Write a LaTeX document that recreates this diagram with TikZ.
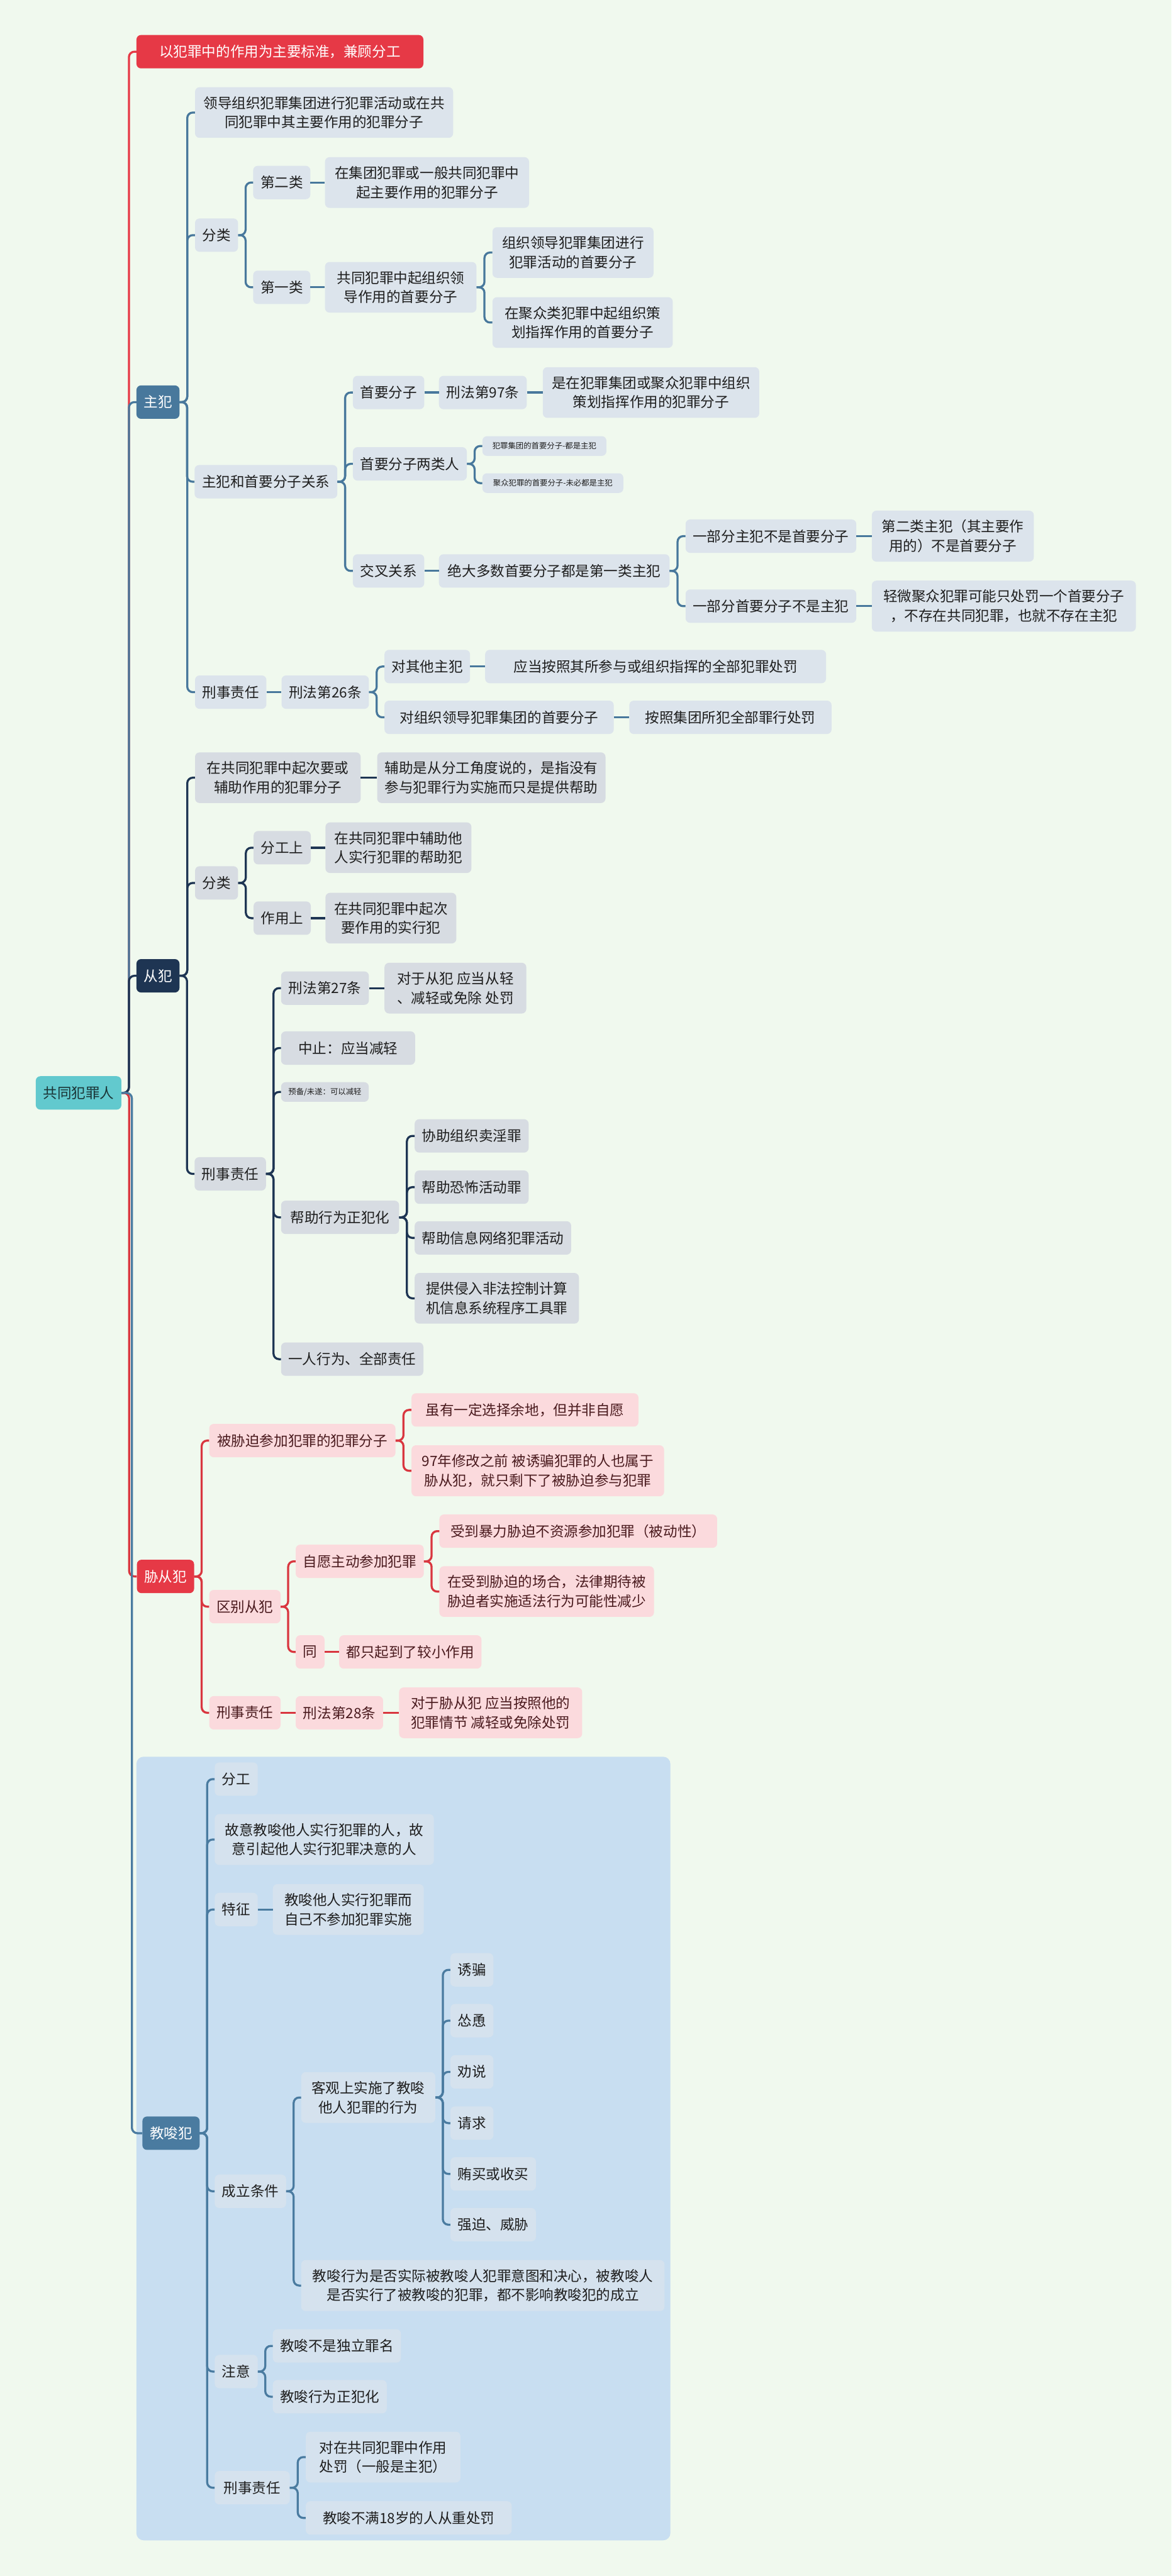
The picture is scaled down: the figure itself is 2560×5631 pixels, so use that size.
\documentclass[tikz,border=0pt]{standalone}
\usepackage{fontspec}
\setmainfont{Noto Sans CJK SC}
\usetikzlibrary{calc}

\definecolor{bgcol}{HTML}{F0F9EE}
\definecolor{inkdark}{HTML}{1E1E1E}
\definecolor{rootteal}{HTML}{62C9CE}
\definecolor{roottext}{HTML}{1A3436}
\definecolor{titlered}{HTML}{E63946}
\definecolor{zfblue}{HTML}{48789C}
\definecolor{zfgray}{HTML}{DCE4EC}
\definecolor{cfnavy}{HTML}{1E3553}
\definecolor{cfgray}{HTML}{D7DCE2}
\definecolor{xcfred}{HTML}{E63946}
\definecolor{xcfline}{HTML}{D9363F}
\definecolor{xcfpink}{HTML}{FBDADD}
\definecolor{xcftext}{HTML}{4A1A1E}
\definecolor{jsblue}{HTML}{4A7BA0}
\definecolor{jsarea}{HTML}{C8DEF1}
\definecolor{jsgray}{HTML}{D5E2EE}

\begin{document}
\begin{tikzpicture}[x=1pt, y=-1pt,
    box/.style={anchor=west, rounded corners=10pt, inner xsep=16pt, inner ysep=20pt, minimum height=73pt, align=center, font=\fontsize{31}{42}\selectfont, text=inkdark},
    tinybox/.style={inner ysep=8pt, minimum height=43pt, font=\fontsize{17}{20}\selectfont},
    rootbox/.style={box, fill=rootteal, text=roottext},
    headbox/.style={box, fill=#1, text=white},
    zfbox/.style={box, fill=zfgray},
    cfbox/.style={box, fill=cfgray},
    xcfbox/.style={box, fill=xcfpink, text=xcftext},
    jsbox/.style={box, fill=jsgray},
    wire/.style={line width=4.5pt, color=#1},
    link/.style={wire=#1, rounded corners=12pt, to path={-- ($(\tikztostart)!0.5!(\tikztostart -| \tikztotarget)$) |- (\tikztotarget)}},
    ]
    \useasboundingbox (0,0) rectangle (2560,5631);
    \fill[bgcol] (0,0) rectangle (2560,5631);
    \fill[jsarea, rounded corners=16pt] (298,3840) rectangle (1465,5553);

    % root and main branches
    \node[rootbox, minimum width=186] at (78,2389) (root) {共同犯罪人};
    \node[headbox=titlered, minimum width=627] at (298,113) (title) {以犯罪中的作用为主要标准，兼顾分工};
    \node[headbox=zfblue, minimum width=94] at (298,879) (zf) {主犯};
    \node[headbox=cfnavy, minimum width=93] at (298,2133) (cf) {从犯};
    \node[headbox=xcfred, minimum width=123] at (299,3446) (xcf) {胁从犯};
    \node[headbox=jsblue, minimum width=125] at (311,4663) (js) {教唆犯};

    % 主犯
    \node[zfbox, minimum width=564] at (426,246) (zfA) {领导组织犯罪集团进行犯罪活动或在共\\同犯罪中其主要作用的犯罪分子};
    \node[zfbox, minimum width=93] at (426,514) (zfB) {分类};
    \node[zfbox, minimum width=124] at (553,399) (zfB1) {第二类};
    \node[zfbox, minimum width=446] at (710,399) (zfB1a) {在集团犯罪或一般共同犯罪中\\起主要作用的犯罪分子};
    \node[zfbox, minimum width=124] at (553,628) (zfB2) {第一类};
    \node[zfbox, minimum width=331] at (710,628) (zfB2a) {共同犯罪中起组织领\\导作用的首要分子};
    \node[zfbox, minimum width=352] at (1076,552) (zfB2a1) {组织领导犯罪集团进行\\犯罪活动的首要分子};
    \node[zfbox, minimum width=394] at (1076,705) (zfB2a2) {在聚众类犯罪中起组织策\\划指挥作用的首要分子};
    \node[zfbox, minimum width=312] at (425,1053) (zfC) {主犯和首要分子关系};
    \node[zfbox, minimum width=154] at (771,858) (zfC1) {首要分子};
    \node[zfbox, minimum width=192] at (959,858) (zfC1a) {刑法第97条};
    \node[zfbox, minimum width=473] at (1186,858) (zfC1b) {是在犯罪集团或聚众犯罪中组织\\策划指挥作用的犯罪分子};
    \node[zfbox, minimum width=248] at (771,1014) (zfC2) {首要分子两类人};
    \node[zfbox, tinybox, minimum width=271] at (1054,975) (zfC2a) {犯罪集团的首要分子-都是主犯};
    \node[zfbox, tinybox, minimum width=308] at (1054,1056) (zfC2b) {聚众犯罪的首要分子-未必都是主犯};
    \node[zfbox, minimum width=154] at (771,1248) (zfC3) {交叉关系};
    \node[zfbox, minimum width=504] at (959,1248) (zfC3a) {绝大多数首要分子都是第一类主犯};
    \node[zfbox, minimum width=371] at (1498,1172) (zfC3a1) {一部分主犯不是首要分子};
    \node[zfbox, minimum width=354] at (1905,1172) (zfC3a1x) {第二类主犯（其主要作\\用的）不是首要分子};
    \node[zfbox, minimum width=371] at (1498,1325) (zfC3a2) {一部分首要分子不是主犯};
    \node[zfbox, minimum width=577] at (1905,1325) (zfC3a2x) {轻微聚众犯罪可能只处罚一个首要分子\\，不存在共同犯罪，也就不存在主犯};
    \node[zfbox, minimum width=153] at (426,1513) (zfD) {刑事责任};
    \node[zfbox, minimum width=191] at (615,1513) (zfD1) {刑法第26条};
    \node[zfbox, minimum width=186] at (840,1457) (zfD1a) {对其他主犯};
    \node[zfbox, minimum width=745] at (1060,1457) (zfD1ax) {应当按照其所参与或组织指挥的全部犯罪处罚};
    \node[zfbox, minimum width=501] at (840,1568) (zfD1b) {对组织领导犯罪集团的首要分子};
    \node[zfbox, minimum width=442] at (1375,1568) (zfD1bx) {按照集团所犯全部罪行处罚};

    % 从犯
    \node[cfbox, minimum width=362] at (426,1700) (cfA) {在共同犯罪中起次要或\\辅助作用的犯罪分子};
    \node[cfbox, minimum width=499] at (824,1700) (cfAx) {辅助是从分工角度说的，是指没有\\参与犯罪行为实施而只是提供帮助};
    \node[cfbox, minimum width=91] at (426,1930) (cfB) {分类};
    \node[cfbox, minimum width=121] at (554,1853) (cfB1) {分工上};
    \node[cfbox, minimum width=319] at (711,1853) (cfB1x) {在共同犯罪中辅助他\\人实行犯罪的帮助犯};
    \node[cfbox, minimum width=121] at (554,2007) (cfB2) {作用上};
    \node[cfbox, minimum width=286] at (711,2007) (cfB2x) {在共同犯罪中起次\\要作用的实行犯};
    \node[cfbox, minimum width=155] at (425,2566) (cfC) {刑事责任};
    \node[cfbox, minimum width=192] at (614,2160) (cfC1) {刑法第27条};
    \node[cfbox, minimum width=310] at (840,2160) (cfC1x) {对于从犯 应当从轻\\、减轻或免除 处罚};
    \node[cfbox, minimum width=293] at (614,2291) (cfC2) {中止：应当减轻};
    \node[cfbox, tinybox, minimum width=190] at (614,2387) (cfC3) {预备/未遂：可以减轻};
    \node[cfbox, minimum width=258] at (614,2661) (cfC4) {帮助行为正犯化};
    \node[cfbox, minimum width=248] at (906,2483) (cfC4a) {协助组织卖淫罪};
    \node[cfbox, minimum width=248] at (906,2595) (cfC4b) {帮助恐怖活动罪};
    \node[cfbox, minimum width=341] at (906,2706) (cfC4c) {帮助信息网络犯罪活动};
    \node[cfbox, minimum width=359] at (906,2838) (cfC4d) {提供侵入非法控制计算\\机信息系统程序工具罪};
    \node[cfbox, minimum width=311] at (614,2971) (cfC5) {一人行为、全部责任};

    % 胁从犯
    \node[xcfbox, minimum width=407] at (457,3149) (xcfA) {被胁迫参加犯罪的犯罪分子};
    \node[xcfbox, minimum width=496] at (899,3082) (xcfA1) {虽有一定选择余地，但并非自愿};
    \node[xcfbox, minimum width=552] at (899,3215) (xcfA2) {97年修改之前 被诱骗犯罪的人也属于\\胁从犯，就只剩下了被胁迫参与犯罪};
    \node[xcfbox, minimum width=155] at (457,3512) (xcfB) {区别从犯};
    \node[xcfbox, minimum width=280] at (646,3413) (xcfB1) {自愿主动参加犯罪};
    \node[xcfbox, minimum width=607] at (960,3347) (xcfB1a) {受到暴力胁迫不资源参加犯罪（被动性）};
    \node[xcfbox, minimum width=469] at (960,3479) (xcfB1b) {在受到胁迫的场合，法律期待被\\胁迫者实施适法行为可能性减少};
    \node[xcfbox, minimum width=62] at (646,3611) (xcfB2) {同};
    \node[xcfbox, minimum width=310] at (741,3611) (xcfB2x) {都只起到了较小作用};
    \node[xcfbox, minimum width=155] at (457,3744) (xcfC) {刑事责任};
    \node[xcfbox, minimum width=191] at (646,3744) (xcfC1) {刑法第28条};
    \node[xcfbox, minimum width=400] at (872,3744) (xcfC1x) {对于胁从犯 应当按照他的\\犯罪情节 减轻或免除处罚};

    % 教唆犯
    \node[jsbox, minimum width=94] at (469,3889) (jsA) {分工};
    \node[jsbox, minimum width=479] at (469,4021) (jsB) {故意教唆他人实行犯罪的人，故\\意引起他人实行犯罪决意的人};
    \node[jsbox, minimum width=94] at (469,4174) (jsC) {特征};
    \node[jsbox, minimum width=330] at (596,4174) (jsCx) {教唆他人实行犯罪而\\自己不参加犯罪实施};
    \node[jsbox, minimum width=156] at (469,4790) (jsD) {成立条件};
    \node[jsbox, minimum width=293] at (658,4585) (jsD1) {客观上实施了教唆\\他人犯罪的行为};
    \node[jsbox, minimum width=94] at (984,4306) (jsD1a) {诱骗};
    \node[jsbox, minimum width=94] at (984,4417) (jsD1b) {怂恿};
    \node[jsbox, minimum width=94] at (984,4529) (jsD1c) {劝说};
    \node[jsbox, minimum width=94] at (984,4641) (jsD1d) {请求};
    \node[jsbox, minimum width=186] at (984,4752) (jsD1e) {贿买或收买};
    \node[jsbox, minimum width=186] at (984,4863) (jsD1f) {强迫、威胁};
    \node[jsbox, minimum width=794] at (658,4996) (jsD2) {教唆行为是否实际被教唆人犯罪意图和决心，被教唆人\\是否实行了被教唆的犯罪，都不影响教唆犯的成立};
    \node[jsbox, minimum width=94] at (469,5184) (jsE) {注意};
    \node[jsbox, minimum width=280] at (596,5128) (jsE1) {教唆不是独立罪名};
    \node[jsbox, minimum width=249] at (596,5239) (jsE2) {教唆行为正犯化};
    \node[jsbox, minimum width=164] at (469,5438) (jsF) {刑事责任};
    \node[jsbox, align=left, minimum width=338] at (668,5371) (jsF1) {对在共同犯罪中作用\\处罚（一般是主犯）};
    \node[jsbox, minimum width=450] at (668,5504) (jsF2) {教唆不满18岁的人从重处罚};

    % connectors
    \draw[link=titlered] (root.east) to (title.west);
    \draw[link=zfblue] (root.east) to (zf.west);
    \draw[link=cfnavy] (root.east) to (cf.west);
    \draw[link=xcfline] (root.east) to (xcf.west);
    \draw[link=jsblue] (root.east) to (js.west);

    \foreach \k in {zfA,zfB,zfC,zfD} \draw[link=zfblue] (zf.east) to (\k.west);
    \draw[link=zfblue] (zfB.east) to (zfB1.west);
    \draw[link=zfblue] (zfB.east) to (zfB2.west);
    \draw[wire=zfblue] (zfB1.east) -- (zfB1a.west);
    \draw[wire=zfblue] (zfB2.east) -- (zfB2a.west);
    \draw[link=zfblue] (zfB2a.east) to (zfB2a1.west);
    \draw[link=zfblue] (zfB2a.east) to (zfB2a2.west);
    \foreach \k in {zfC1,zfC2,zfC3} \draw[link=zfblue] (zfC.east) to (\k.west);
    \draw[wire=zfblue] (zfC1.east) -- (zfC1a.west);
    \draw[wire=zfblue] (zfC1a.east) -- (zfC1b.west);
    \draw[link=zfblue] (zfC2.east) to (zfC2a.west);
    \draw[link=zfblue] (zfC2.east) to (zfC2b.west);
    \draw[wire=zfblue] (zfC3.east) -- (zfC3a.west);
    \draw[link=zfblue] (zfC3a.east) to (zfC3a1.west);
    \draw[link=zfblue] (zfC3a.east) to (zfC3a2.west);
    \draw[wire=zfblue] (zfC3a1.east) -- (zfC3a1x.west);
    \draw[wire=zfblue] (zfC3a2.east) -- (zfC3a2x.west);
    \draw[wire=zfblue] (zfD.east) -- (zfD1.west);
    \draw[link=zfblue] (zfD1.east) to (zfD1a.west);
    \draw[link=zfblue] (zfD1.east) to (zfD1b.west);
    \draw[wire=zfblue] (zfD1a.east) -- (zfD1ax.west);
    \draw[wire=zfblue] (zfD1b.east) -- (zfD1bx.west);

    \foreach \k in {cfA,cfB,cfC} \draw[link=cfnavy] (cf.east) to (\k.west);
    \draw[wire=cfnavy] (cfA.east) -- (cfAx.west);
    \draw[link=cfnavy] (cfB.east) to (cfB1.west);
    \draw[link=cfnavy] (cfB.east) to (cfB2.west);
    \draw[wire=cfnavy] (cfB1.east) -- (cfB1x.west);
    \draw[wire=cfnavy] (cfB2.east) -- (cfB2x.west);
    \foreach \k in {cfC1,cfC2,cfC3,cfC4,cfC5} \draw[link=cfnavy] (cfC.east) to (\k.west);
    \draw[wire=cfnavy] (cfC1.east) -- (cfC1x.west);
    \foreach \k in {cfC4a,cfC4b,cfC4c,cfC4d} \draw[link=cfnavy] (cfC4.east) to (\k.west);

    \foreach \k in {xcfA,xcfB,xcfC} \draw[link=xcfline] (xcf.east) to (\k.west);
    \draw[link=xcfline] (xcfA.east) to (xcfA1.west);
    \draw[link=xcfline] (xcfA.east) to (xcfA2.west);
    \draw[link=xcfline] (xcfB.east) to (xcfB1.west);
    \draw[link=xcfline] (xcfB.east) to (xcfB2.west);
    \draw[link=xcfline] (xcfB1.east) to (xcfB1a.west);
    \draw[link=xcfline] (xcfB1.east) to (xcfB1b.west);
    \draw[wire=xcfline] (xcfB2.east) -- (xcfB2x.west);
    \draw[wire=xcfline] (xcfC.east) -- (xcfC1.west);
    \draw[wire=xcfline] (xcfC1.east) -- (xcfC1x.west);

    \foreach \k in {jsA,jsB,jsC,jsD,jsE,jsF} \draw[link=jsblue] (js.east) to (\k.west);
    \draw[wire=jsblue] (jsC.east) -- (jsCx.west);
    \draw[link=jsblue] (jsD.east) to (jsD1.west);
    \draw[link=jsblue] (jsD.east) to (jsD2.west);
    \foreach \k in {jsD1a,jsD1b,jsD1c,jsD1d,jsD1e,jsD1f} \draw[link=jsblue] (jsD1.east) to (\k.west);
    \draw[link=jsblue] (jsE.east) to (jsE1.west);
    \draw[link=jsblue] (jsE.east) to (jsE2.west);
    \draw[link=jsblue] (jsF.east) to (jsF1.west);
    \draw[link=jsblue] (jsF.east) to (jsF2.west);
\end{tikzpicture}
\end{document}
